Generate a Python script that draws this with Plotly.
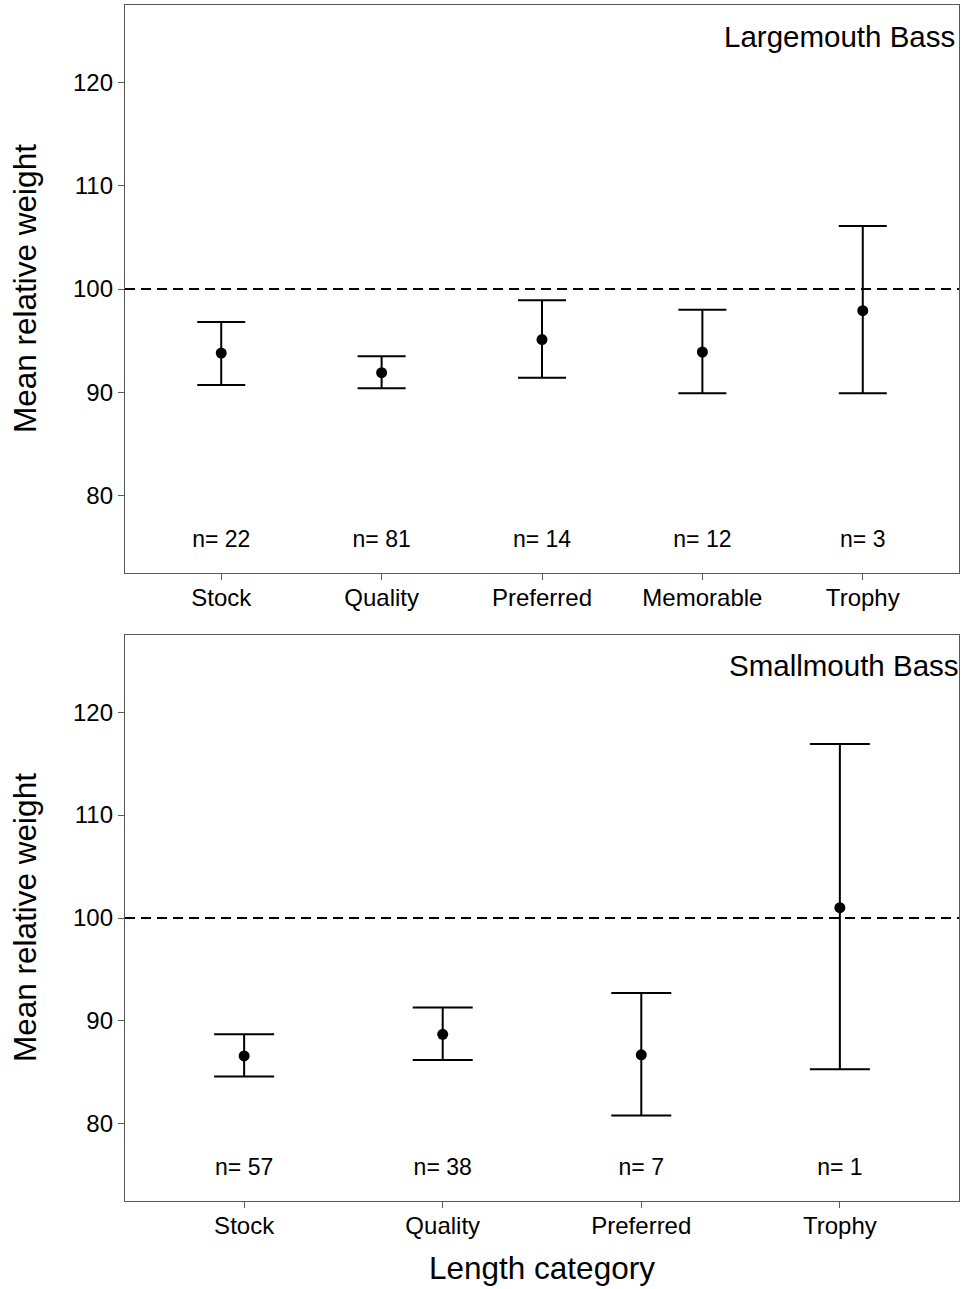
import plotly.graph_objects as go

# Largemouth Bass: mean relative weight with confidence limits by length category
lmb_categories = ["Stock", "Quality", "Preferred", "Memorable", "Trophy"]
lmb_mean = [93.8, 91.9, 95.1, 93.9, 97.9]
lmb_lower = [90.7, 90.4, 91.4, 89.9, 89.9]
lmb_upper = [96.8, 93.5, 98.9, 98.0, 106.1]
lmb_n = [22, 81, 14, 12, 3]

# Smallmouth Bass
smb_categories = ["Stock", "Quality", "Preferred", "Trophy"]
smb_mean = [86.6, 88.7, 86.7, 101.0]
smb_lower = [84.6, 86.2, 80.8, 85.3]
smb_upper = [88.7, 91.3, 92.7, 116.9]
smb_n = [57, 38, 7, 1]

y_ticks = [80, 90, 100, 110, 120]
reference_weight = 100
n_label_y = 75.6
y_range = [72.5, 127.5]

W, H = 964, 1289
FONT = "Liberation Sans, Arial, sans-serif"


def px_x(p):
    return p / W


def px_y(p):
    return 1 - p / H


fig = go.Figure()


def add_panel(cats, mean, lower, upper, n, xa, ya, cap_half):
    fig.add_trace(go.Scatter(
        x=cats, y=mean, mode="markers", xaxis=xa, yaxis=ya,
        marker=dict(color="black", size=11),
        error_y=dict(
            type="data", symmetric=False,
            array=[u - m for u, m in zip(upper, mean)],
            arrayminus=[m - l for m, l in zip(mean, lower)],
            color="black", thickness=2, width=cap_half,
        ),
        showlegend=False, hoverinfo="skip",
    ))
    fig.add_trace(go.Scatter(
        x=cats, y=[n_label_y] * len(cats), mode="text", xaxis=xa, yaxis=ya,
        text=[f"n= {v}" for v in n],
        textfont=dict(family=FONT, size=23, color="black"),
        showlegend=False, hoverinfo="skip",
    ))
    fig.add_shape(
        type="line", xref=f"{xa} domain", yref=ya,
        x0=0, x1=1, y0=reference_weight, y1=reference_weight,
        line=dict(color="black", width=2, dash="10px,6px"),
    )


add_panel(lmb_categories, lmb_mean, lmb_lower, lmb_upper, lmb_n, "x", "y", 24)
add_panel(smb_categories, smb_mean, smb_lower, smb_upper, smb_n, "x2", "y2", 30)

x_dom = [px_x(125), px_x(959)]
axis_common = dict(
    showline=True, mirror=True, linecolor="#5a5a5a", linewidth=1.3,
    ticks="outside", ticklen=6, tickwidth=1.3, tickcolor="#5a5a5a",
    showgrid=False, zeroline=False,
    tickfont=dict(family=FONT, size=24, color="black"),
)

fig.update_layout(
    width=W, height=H,
    margin=dict(l=0, r=0, t=0, b=0),
    paper_bgcolor="white", plot_bgcolor="white",
    xaxis=dict(domain=x_dom, anchor="y", type="category",
               categoryorder="array", categoryarray=lmb_categories,
               range=[-0.6, len(lmb_categories) - 0.4], ticklabelstandoff=-3,
               **axis_common),
    yaxis=dict(domain=[px_y(573), px_y(5)], anchor="x", range=y_range,
               tickvals=y_ticks, **axis_common),
    xaxis2=dict(domain=x_dom, anchor="y2", type="category",
                categoryorder="array", categoryarray=smb_categories,
                range=[-0.6, len(smb_categories) - 0.4], ticklabelstandoff=-3,
                **axis_common),
    yaxis2=dict(domain=[px_y(1201), px_y(635)], anchor="x2", range=y_range,
                tickvals=y_ticks, **axis_common),
)

title_font = dict(family=FONT, size=31.5, color="black")
species_font = dict(family=FONT, size=29.5, color="black")

annotations = [
    dict(text="Mean relative weight", x=px_x(25), y=px_y(289), xref="paper", yref="paper",
         textangle=-90, showarrow=False, font=title_font, xanchor="center", yanchor="middle"),
    dict(text="Mean relative weight", x=px_x(25), y=px_y(918), xref="paper", yref="paper",
         textangle=-90, showarrow=False, font=title_font, xanchor="center", yanchor="middle"),
    dict(text="Length category", x=px_x(542), y=px_y(1268), xref="paper", yref="paper",
         showarrow=False, font=title_font, xanchor="center", yanchor="middle"),
    dict(text="Largemouth Bass", x=px_x(957), y=px_y(36), xref="paper", yref="paper",
         showarrow=False, font=species_font, xanchor="right", yanchor="middle"),
    dict(text="Smallmouth Bass", x=px_x(961), y=px_y(665), xref="paper", yref="paper",
         showarrow=False, font=species_font, xanchor="right", yanchor="middle"),
]
fig.update_layout(annotations=annotations)

fig.write_html("out.html")
